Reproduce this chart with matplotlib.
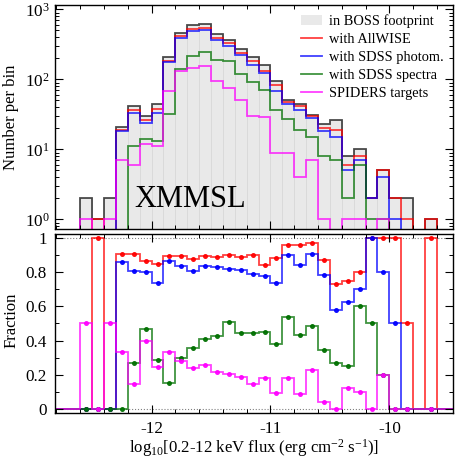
import numpy as np
import matplotlib.pyplot as plt
from matplotlib.ticker import MultipleLocator, LogLocator, NullFormatter, FormatStrFormatter
from matplotlib.patches import Patch
from matplotlib.lines import Line2D

plt.rcParams['font.family'] = ['Liberation Serif', 'DejaVu Serif']
plt.rcParams['mathtext.fontset'] = 'custom'
plt.rcParams['mathtext.rm'] = 'Liberation Serif'
plt.rcParams['mathtext.it'] = 'Liberation Serif:italic'
plt.rcParams['axes.unicode_minus'] = False

# histogram bins: log10 flux, 0.1 dex wide starting at -12.8
bin_lo = -12.8
bin_w = 0.1

footprint = [0, 0, 2, 1, 2, 21, 41, 30, 45, 207, 463, 600, 610, 444, 364, 271, 205,
             158, 94, 50, 44, 31, 23, 26, 8, 10, 2, 5, 2, 2, 0, 1, 0, 0]
allwise = [0, 0, 0, 1, 0, 19, 37, 26, 38, 185, 414, 525, 546, 393, 327, 240, 184,
           133, 83, 48, 42, 30, 20, 19, 6, 8, 2, 5, 2, 1, 0, 1, 0, 0]
sdss_phot = [0, 0, 0, 0, 0, 18, 33, 24, 33, 179, 387, 484, 510, 369, 298, 220, 162,
             123, 69, 45, 37, 28, 18, 15, 5, 7, 2, 4, 1, 0, 0, 0, 0, 0]
sdss_spec = [0, 0, 0, 0, 0, 0, 11, 14, 13, 32, 139, 213, 249, 190, 185, 120, 91,
             71, 36, 27, 19, 15, 8, 7, 2, 6, 1, 1, 0, 0, 0, 0, 0, 0]
spiders = [0, 0, 1, 0, 1, 7, 6, 12, 11, 69, 130, 143, 157, 96, 74, 51, 30,
           29, 9, 9, 4, 7, 1, 0, 1, 1, 0, 1, 0, 0, 0, 0, 0, 0]

labels = ['with AllWISE', 'with SDSS photom.', 'with SDSS spectra', 'SPIDERS targets']
colors = ['#ff0000', '#0000ff', '#007000', '#ff00ff']
subsets = [allwise, sdss_phot, sdss_spec, spiders]

fp = np.array(footprint, dtype=float)
edges = bin_lo + bin_w * np.arange(len(fp) + 1)
centers = edges[:-1] + bin_w / 2
has = fp > 0

fig = plt.figure(figsize=(4.58, 4.58), dpi=100)
ax1 = fig.add_axes([0.1207, 0.4993, 0.8683, 0.4891])
ax2 = fig.add_axes([0.1207, 0.0972, 0.8683, 0.3913], sharex=ax1)

# top: counts per bin
ax1.set_yscale('log')
ax1.bar(centers[has], fp[has], width=bin_w, color='#e9e9e9', edgecolor='#d9d9d9', linewidth=0.6)
ax1.stairs(np.maximum(fp, 0.1), edges, baseline=None, color='#202020', lw=1.3, alpha=0.8)
for vals, c in zip(subsets, colors):
    ax1.stairs(np.maximum(np.array(vals, float), 0.1), edges, baseline=None, color=c, lw=1.3, alpha=0.75)

ax1.set_ylim(0.72, 1140)
ax1.set_xlim(-12.81, -9.465)
ax1.set_ylabel('Number per bin', fontsize=12, va='center')
ax1.yaxis.set_label_coords(-0.111, 0.5)
ax1.text(0.2, 0.1, 'XMMSL', transform=ax1.transAxes, fontsize=22, ha='left', va='baseline')

handles = [Patch(facecolor='#e9e9e9', edgecolor='none')]
handles += [Line2D([], [], color=c, lw=1.3, alpha=0.75) for c in colors]
ax1.legend(handles, ['in BOSS footprint'] + labels, loc='upper right', frameon=False,
           fontsize=10.4, handlelength=1.4, handletextpad=0.5, labelspacing=0.33,
           borderaxespad=0.45, borderpad=0.2)

# bottom: fractions of footprint sample
for vals, c in zip(subsets, colors):
    v = np.array(vals, float)
    frac = np.divide(v, fp, out=np.zeros_like(v), where=has)
    ax2.stairs(frac, edges, baseline=None, color=c, lw=1.3, alpha=0.75)
    ax2.plot(centers[has], frac[has], 'o', ms=2.6, color=c, alpha=0.9)

ax2.axhline(0, color='gray', ls=':', lw=0.8, zorder=0)
ax2.axhline(1, color='gray', ls=':', lw=0.8, zorder=0)
ax2.set_ylim(-0.025, 1.02)
ax2.set_ylabel('Fraction', fontsize=12, va='center')
ax2.yaxis.set_label_coords(-0.111, 0.52)
ax2.set_xlabel('log$_{10}$[0.2-12 keV flux (erg cm$^{-2}$ s$^{-1}$)]', fontsize=12.1, va='baseline')
ax2.xaxis.set_label_coords(0.5, -0.219)

ax2.xaxis.set_major_locator(MultipleLocator(1))
ax2.xaxis.set_minor_locator(MultipleLocator(0.2))
ax2.yaxis.set_major_locator(MultipleLocator(0.2))
ax2.yaxis.set_minor_locator(MultipleLocator(0.1))
ax2.yaxis.set_major_formatter(FormatStrFormatter('%g'))
ax1.yaxis.set_minor_locator(LogLocator(base=10, subs=np.arange(2, 10)))
ax1.yaxis.set_minor_formatter(NullFormatter())

for ax in (ax1, ax2):
    ax.tick_params(which='both', direction='in', top=True, right=True, labelsize=12.3)
    ax.tick_params(which='major', length=6, width=0.8)
    ax.tick_params(which='minor', length=3, width=0.7)
    for s in ax.spines.values():
        s.set_linewidth(1.0)
ax1.tick_params(axis='x', labelbottom=False)
ax1.tick_params(axis='y', pad=4)
ax2.tick_params(axis='x', pad=5.5)
ax2.tick_params(axis='y', pad=6)

fig.savefig('out.png', dpi=100)
